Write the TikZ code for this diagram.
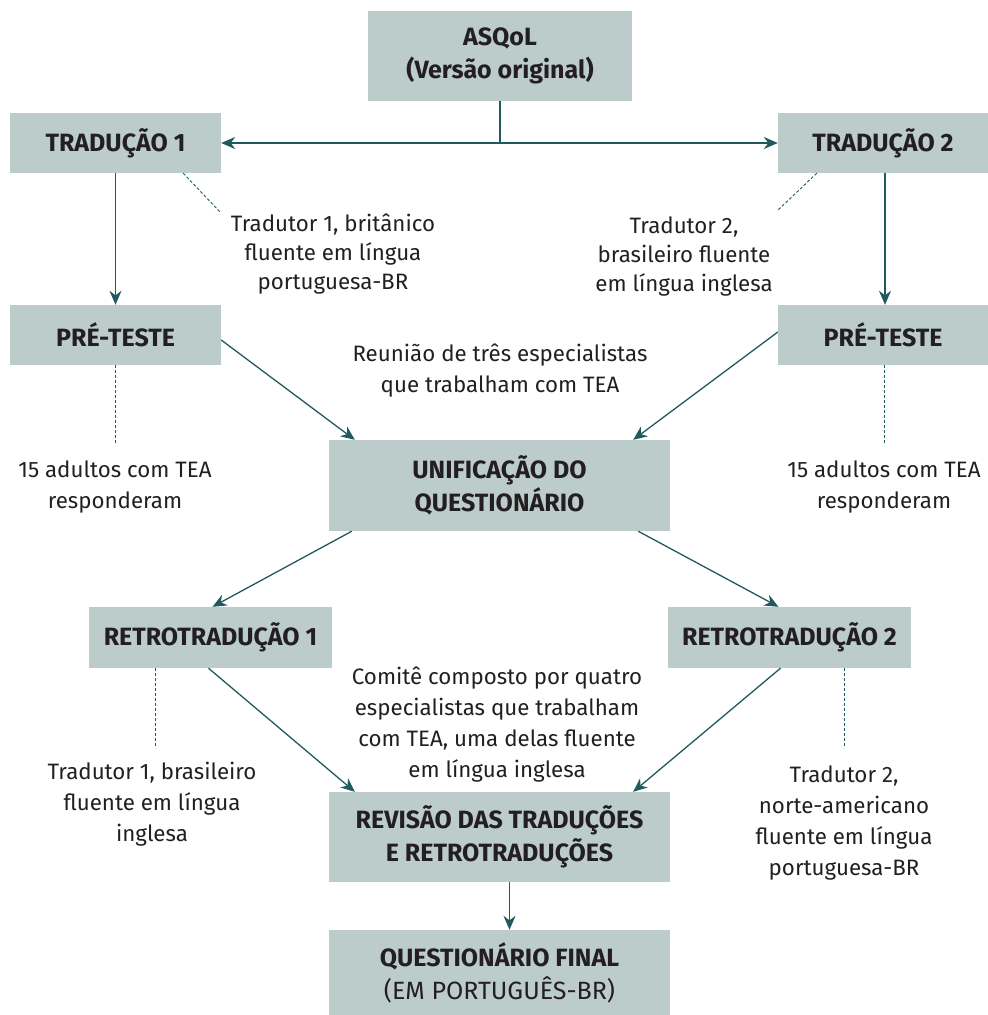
\documentclass[tikz,border=0pt]{standalone}
\usepackage{fontspec}
\setmainfont{Fira Sans}
\usetikzlibrary{positioning, arrows.meta}
\definecolor{boxgray}{HTML}{BCCCCB}
\definecolor{tealline}{HTML}{1F5A5E}
\definecolor{inkgray}{HTML}{231F20}

\begin{document}
\begin{tikzpicture}[x=1pt, y=-1pt, >={Stealth[length=14pt, width=12pt]},
  stage/.style={fill=boxgray, text=inkgray, inner sep=0pt, align=center,
    font=\fontsize{25}{33}\selectfont\bfseries},
  remark/.style={text=inkgray, inner sep=0pt, align=center,
    font=\fontsize{22.3}{31}\selectfont},
  flow/.style={->, draw=tealline, line width=1.3pt},
  tie/.style={draw=tealline, line width=0.9pt, dash pattern=on 3pt off 2pt}]

\useasboundingbox (0,0) rectangle (988,1015);

\node[stage, minimum width=264, minimum height=90] (orig) at (500,56) {ASQoL\\(Versão original)};
\node[stage, minimum width=211, minimum height=60] (trad1) at (115.5,143) {TRADUÇÃO 1};
\node[stage, minimum width=210, minimum height=60] (trad2) at (883,143) {TRADUÇÃO 2};
\node[stage, minimum width=211, minimum height=60] (pre1) at (115.5,335) {PRÉ-TESTE};
\node[stage, minimum width=210, minimum height=60] (pre2) at (883,335) {PRÉ-TESTE};
\node[stage, minimum width=341, minimum height=91] (unif) at (499.5,485.5) {UNIFICAÇÃO DO\\QUESTIONÁRIO};
\node[stage, minimum width=243, minimum height=61] (retro1) at (210.5,637.5) {RETROTRADUÇÃO 1};
\node[stage, minimum width=243, minimum height=61] (retro2) at (789.5,637.5) {RETROTRADUÇÃO 2};
\node[stage, minimum width=341, minimum height=90] (rev) at (499.5,837) {REVISÃO DAS TRADUÇÕES\\E RETROTRADUÇÕES};
\node[stage, minimum width=341, minimum height=85] (final) at (499.5,972.5) {QUESTIONÁRIO FINAL\\{\mdseries (EM PORTUGUÊS-BR)}};

\node[remark, font=\fontsize{22.3}{29}\selectfont] (who1) at (333,254) {Tradutor 1, britânico\\fluente em língua\\portuguesa-BR};
\node[remark, font=\fontsize{22.3}{29}\selectfont] (who2) at (684,257) {Tradutor 2,\\brasileiro fluente\\em língua inglesa};
\node[remark] (meet) at (500,371) {Reunião de três especialistas\\que trabalham com TEA};
\node[remark] (test1) at (115,487) {15 adultos com TEA\\responderam};
\node[remark] (test2) at (884,487) {15 adultos com TEA\\responderam};
\node[remark] (board) at (497,725) {Comitê composto por quatro\\especialistas que trabalham\\com TEA, uma delas fluente\\em língua inglesa};
\node[remark] (back1) at (152,804) {Tradutor 1, brasileiro\\fluente em língua\\inglesa};
\node[remark] (back2) at (844,823) {Tradutor 2,\\norte-americano\\fluente em língua\\portuguesa-BR};

\draw[draw=tealline, line width=1.3pt] (orig.south) -- (orig.south |- trad1.east) coordinate (split);
\draw[flow] (split) -- (trad1.east);
\draw[flow] (split) -- (trad2.west);
\draw[flow] (trad1.south) -- (pre1.north);
\draw[flow] ([xshift=2pt]trad2.south) -- ([xshift=2pt]pre2.north);
\draw[flow] ([yshift=-5pt]pre1.east) -- ([xshift=26pt]unif.north west);
\draw[flow] ([yshift=3pt]pre2.west) -- ([xshift=-37pt]unif.north east);
\draw[flow] ([xshift=23pt]unif.south west) -- ([xshift=2pt]retro1.north);
\draw[flow] ([xshift=-32pt]unif.south east) -- ([xshift=-11pt]retro2.north);
\draw[flow] ([xshift=-2pt]retro1.south) -- ([xshift=26pt]rev.north west);
\draw[flow] ([xshift=-9pt]retro2.south) -- ([xshift=-37pt]rev.north east);
\draw[flow] ([xshift=10pt]rev.south) -- ([xshift=10pt]final.north);

\draw[tie] ([xshift=-38pt]trad1.south east) -- ++(37,39) coordinate (tip1);
\draw[tie] ([xshift=39pt]trad2.south west) -- ++(-39,37) coordinate (tip2);
\draw[tie] (pre1.south) -- ++(0,80) coordinate (tip3);
\draw[tie] ([xshift=1pt]pre2.south) -- ++(0,80) coordinate (tip4);
\draw[tie] ([xshift=-55pt]retro1.south) -- ++(0,80) coordinate (tip5);
\draw[tie] ([xshift=55pt]retro2.south) -- ++(0,80) coordinate (tip6);

\end{tikzpicture}
\end{document}
